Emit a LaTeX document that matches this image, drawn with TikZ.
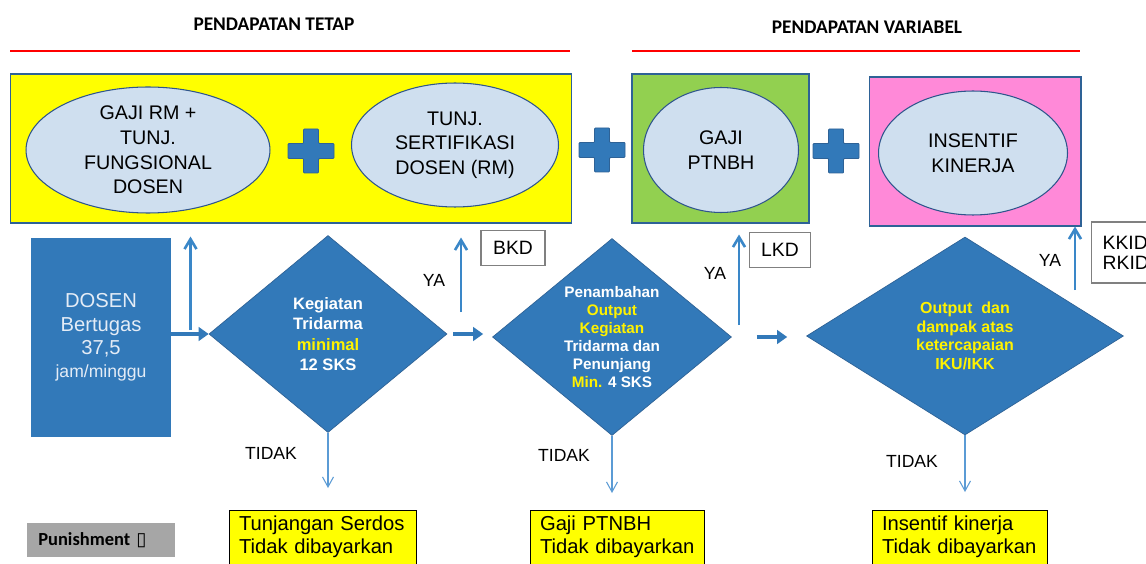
\documentclass[tikz,border=0pt]{standalone}
\usepackage{fontspec}
\setmainfont{Liberation Sans}
\newfontfamily\calibri{Carlito}
\newfontfamily\symfont{DejaVu Sans}
\usetikzlibrary{shapes.geometric,arrows.meta}
\definecolor{dosenblue}{RGB}{50,121,185}
\definecolor{edgeblue}{RGB}{46,98,150}
\definecolor{dosentext}{RGB}{228,236,246}
\definecolor{ovalfill}{RGB}{207,223,239}
\definecolor{ovaledge}{RGB}{47,85,140}
\definecolor{arrowblue}{RGB}{58,135,200}
\definecolor{thinblue}{RGB}{91,155,213}
\definecolor{boxyellow}{RGB}{255,255,0}
\definecolor{boxgreen}{RGB}{146,208,80}
\definecolor{boxpink}{RGB}{255,137,216}
\definecolor{punishgray}{RGB}{166,166,166}

\begin{document}
\begin{tikzpicture}[x=0.02cm,y=-0.02cm,
    title/.style={font=\calibri\bfseries\fontsize{11}{13}\selectfont},
    redline/.style={red,line width=1.5pt},
    panel/.style={draw=edgeblue,line width=0.6pt},
    oval/.style={ellipse,draw=ovaledge,fill=ovalfill,line width=0.6pt,inner sep=0pt,align=center,font=\fontsize{11.2}{14}\selectfont},
    decision/.style={diamond,fill=dosenblue,draw=edgeblue,line width=0.4pt,shape aspect=1.2,inner sep=0pt,align=center,text=white,font=\bfseries\fontsize{9.4}{11.6}\selectfont},
    docbox/.style={draw=gray,line width=0.8pt,fill=white,font=\fontsize{11}{11.4}\selectfont},
    nopay/.style={draw=black,line width=0.6pt,fill=boxyellow,anchor=north west,align=left,inner xsep=0.19cm,inner ysep=0.11cm,text depth=1.2cm,font=\fontsize{11.5}{13}\selectfont},
    plusmark/.style={fill=dosenblue,draw=edgeblue,line width=0.5pt,rounded corners=0.5pt},
    yes/.style={arrowblue,line width=1.5pt,-{Straight Barb[length=0.2cm,width=0.24cm]}},
    no/.style={thinblue,line width=0.6pt,-{Straight Barb[length=0.2cm,width=0.22cm]}},
    next/.style={dosenblue,line width=2.8pt,-{Triangle[length=0.2cm,width=0.27cm]}},
    lbl/.style={font=\fontsize{10}{12}\selectfont}]
    \useasboundingbox (0,0) rectangle (1146,564);
    \clip (0,0) rectangle (1146,564);
    \fill[white] (0,0) rectangle (1146,564);

    \node[title] (tetap) at (274,24) {PENDAPATAN TETAP};
    \node[title] (variabel) at (867,27) {PENDAPATAN VARIABEL};
    \draw[redline] (10,51) -- (570,51);
    \draw[redline] (632,51) -- (1080,51);

    \node[panel,fill=boxyellow,minimum width=11.24cm,minimum height=2.98cm] (fixbox) at (291,148.5) {};
    \node[panel,fill=boxgreen,minimum width=3.54cm,minimum height=2.98cm] (ptnbhbox) at (720.5,148.5) {};
    \node[panel,fill=boxpink,minimum width=4.24cm,minimum height=2.98cm] (kinerjabox) at (975,151.5) {};

    \node[oval,minimum width=4.88cm,minimum height=2.52cm] (gaji) at (148,150) {GAJI RM +\\TUNJ.\\FUNGSIONAL\\DOSEN};
    \node[oval,minimum width=4.14cm,minimum height=2.48cm] (serdos) at (455,145) {TUNJ.\\SERTIFIKASI\\DOSEN (RM)};
    \node[oval,minimum width=3.1cm,minimum height=2.5cm] (ptnbh) at (721,150) {GAJI\\PTNBH};
    \node[oval,minimum width=3.78cm,minimum height=2.48cm] (insentif) at (973,153) {INSENTIF\\KINERJA};

    \draw[plusmark] (311,151) +(-23,-7.5) -- +(-7.5,-7.5) -- +(-7.5,-22) -- +(7.5,-22) -- +(7.5,-7.5) -- +(23,-7.5) -- +(23,7.5) -- +(7.5,7.5) -- +(7.5,22) -- +(-7.5,22) -- +(-7.5,7.5) -- +(-23,7.5) -- cycle;
    \draw[plusmark] (602,150) +(-23,-7.5) -- +(-7.5,-7.5) -- +(-7.5,-22) -- +(7.5,-22) -- +(7.5,-7.5) -- +(23,-7.5) -- +(23,7.5) -- +(7.5,7.5) -- +(7.5,22) -- +(-7.5,22) -- +(-7.5,7.5) -- +(-23,7.5) -- cycle;
    \draw[plusmark] (836,151) +(-23,-7.5) -- +(-7.5,-7.5) -- +(-7.5,-22) -- +(7.5,-22) -- +(7.5,-7.5) -- +(23,-7.5) -- +(23,7.5) -- +(7.5,7.5) -- +(7.5,22) -- +(-7.5,22) -- +(-7.5,7.5) -- +(-23,7.5) -- cycle;

    \node[fill=dosenblue,minimum width=2.8cm,minimum height=3.98cm,align=center,text=dosentext,font=\fontsize{11.5}{13.3}\selectfont] (dosen) at (101,337.5) {DOSEN\\Bertugas\\37,5\\{\fontsize{10}{13.3}\selectfont jam/minggu}};

    \node[decision,minimum width=4.76cm,minimum height=3.94cm] (tridarma) at (328,334) {Kegiatan\\Tridarma\\\textcolor{yellow}{minimal}\\12 SKS};
    \node[decision,minimum width=4.78cm,minimum height=3.94cm,font=\bfseries\fontsize{8.7}{10.3}\selectfont] (tambah) at (612,337) {Penambahan\\\textcolor{yellow}{Output}\\\textcolor{yellow}{Kegiatan}\\Tridarma dan\\Penunjang\\\textcolor{yellow}{Min.} 4 SKS};
    \node[decision,minimum width=6.34cm,minimum height=3.96cm,text=yellow,font=\bfseries\fontsize{9.1}{10.6}\selectfont] (iku) at (965,336) {Output\ \ dan\\dampak atas\\ketercapaian\\IKU/IKK};

    \node[docbox,minimum width=1.28cm,minimum height=0.7cm] (bkd) at (513,248) {BKD};
    \node[docbox,minimum width=1.22cm,minimum height=0.7cm] (lkd) at (780,250) {LKD};
    \node[docbox,anchor=west,text width=1.3cm,align=left,inner xsep=0.22cm,minimum height=1.22cm] (kkid) at (1091,252.5) {KKID\\RKID};

    \node[lbl] (ya1) at (434,280) {YA};
    \node[lbl] (ya2) at (715,273) {YA};
    \node[lbl] (ya3) at (1050,260) {YA};
    \node[lbl] (tidak1) at (271,453) {TIDAK};
    \node[lbl] (tidak2) at (564,455) {TIDAK};
    \node[lbl] (tidak3) at (912,461) {TIDAK};

    \node[nopay,text width=3.36cm] (nosertif) at (229,510) {Tunjangan Serdos\\Tidak dibayarkan};
    \node[nopay,text width=3.1cm] (noptnbh) at (530,510) {Gaji PTNBH\\Tidak dibayarkan};
    \node[nopay,text width=3.12cm] (noinsentif) at (872,510) {Insentif kinerja\\Tidak dibayarkan};

    \node[fill=punishgray,anchor=west,text width=2.52cm,align=left,inner xsep=0.22cm,minimum height=0.68cm,font=\calibri\bfseries\fontsize{10.5}{12}\selectfont] (punish) at (27,540) {Punishment {\symfont\mdseries ▯}};

    \coordinate (up1) at (190.5,330);
    \coordinate (up2) at (461,312);
    \coordinate (up3) at (739,325);
    \coordinate (up4) at (1075,290);
    \draw[yes,shorten >=0.26cm] (up1) -- (up1 |- fixbox.south);
    \draw[yes,shorten >=0.28cm] (up2) -- (up2 |- fixbox.south);
    \draw[yes,shorten >=0.22cm] (up3) -- (up3 |- ptnbhbox.south);
    \draw[yes] (up4) -- (up4 |- kinerjabox.south);

    \draw[no,shorten >=0.44cm] (tridarma.south) -- (tridarma.south |- nosertif.north);
    \draw[no,shorten >=0.34cm] (tambah.south) -- (tambah.south |- noptnbh.north);
    \draw[no,shorten >=0.36cm] (iku.south) -- (iku.south |- noinsentif.north);

    \draw[next] (dosen.east |- tridarma.west) -- (tridarma.west);
    \draw[next,shorten <=0.12cm,shorten >=0.18cm] (tridarma.east) -- (tridarma.east -| tambah.west);
    \draw[next,shorten <=0.5cm,shorten >=0.38cm] (tambah.east) -- (tambah.east -| iku.west);
\end{tikzpicture}
\end{document}
